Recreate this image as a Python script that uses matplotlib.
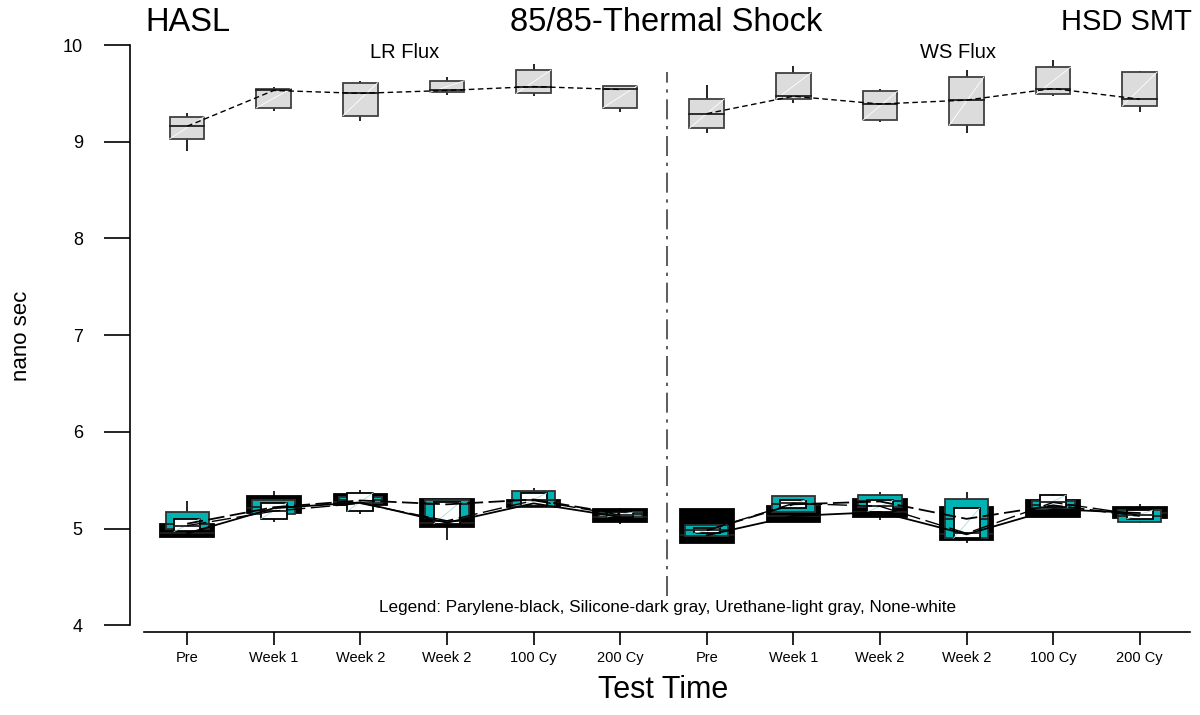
import matplotlib.pyplot as plt
from matplotlib.patches import Rectangle
import numpy as np

plt.rcParams['font.family'] = ['Liberation Sans', 'DejaVu Sans']

test_times = ['Pre', 'Week 1', 'Week 2', 'Week 2', '100 Cy', '200 Cy',
              'Pre', 'Week 1', 'Week 2', 'Week 2', '100 Cy', '200 Cy']

# Parylene (black)
par_q1 = [4.91, 5.16, 5.24, 5.02, 5.22, 5.07, 4.85, 5.07, 5.12, 4.88, 5.12, 5.105]
par_med = [4.95, 5.21, 5.27, 5.06, 5.26, 5.12, 4.93, 5.13, 5.17, 4.94, 5.20, 5.16]
par_q3 = [5.05, 5.335, 5.355, 5.31, 5.29, 5.20, 5.20, 5.23, 5.31, 5.22, 5.30, 5.225]

# Silicone (teal / "dark gray")
sil_q1 = [5.00, 5.15, 5.26, 5.11, 5.22, 5.12, 4.92, 5.17, 5.225, 4.90, 5.20, 5.07]
sil_med = [5.05, 5.22, 5.29, 5.25, 5.30, 5.15, 4.98, 5.25, 5.28, 5.10, 5.24, 5.13]
sil_q3 = [5.17, 5.30, 5.33, 5.29, 5.39, 5.17, 5.04, 5.335, 5.345, 5.31, 5.28, 5.19]

# Urethane (light gray)
ure_lo = [8.90, 9.32, 9.21, 9.48, 9.47, 9.31, 9.09, 9.40, 9.20, 9.09, 9.47, 9.31]
ure_q1 = [9.03, 9.35, 9.27, 9.51, 9.50, 9.35, 9.14, 9.44, 9.22, 9.17, 9.49, 9.37]
ure_med = [9.16, 9.53, 9.50, 9.53, 9.57, 9.54, 9.29, 9.47, 9.39, 9.43, 9.55, 9.44]
ure_q3 = [9.26, 9.55, 9.61, 9.63, 9.74, 9.58, 9.44, 9.71, 9.52, 9.67, 9.77, 9.72]
ure_hi = [9.30, 9.57, 9.63, 9.67, 9.80, 9.58, 9.59, 9.78, 9.55, 9.74, 9.85, 9.73]

# None (white)
non_lo = [4.91, 5.07, 5.15, 4.88, 5.21, 5.05, 4.85, 5.07, 5.09, 4.85, 5.12, 5.06]
non_q1 = [4.97, 5.10, 5.18, 5.05, 5.235, 5.12, 4.95, 5.21, 5.17, 4.90, 5.22, 5.10]
non_med = [5.03, 5.18, 5.26, 5.08, 5.29, 5.14, 4.98, 5.26, 5.23, 4.95, 5.27, 5.14]
non_q3 = [5.10, 5.265, 5.37, 5.27, 5.365, 5.17, 5.01, 5.30, 5.29, 5.21, 5.345, 5.19]
non_hi = [5.28, 5.39, 5.40, 5.31, 5.42, 5.21, 5.20, 5.34, 5.38, 5.38, 5.36, 5.25]

legend_text = 'Legend: Parylene-black, Silicone-dark gray, Urethane-light gray, None-white'

fig = plt.figure(figsize=(12, 7.15), dpi=100)
ax = fig.add_axes([130 / 1200, 83 / 715, 1060 / 1200, 587 / 715])

x = np.arange(len(test_times))


def draw_group(q1, med, q3, width, face, edge, ls, lw, z, diag=None):
    for i in range(len(x)):
        ax.add_patch(Rectangle((x[i] - width / 2, q1[i]), width, q3[i] - q1[i],
                               facecolor=face, edgecolor=edge, lw=1.3, zorder=z))
        if diag:
            ax.plot([x[i] - width / 2, x[i] + width / 2], [q1[i], q3[i]],
                    color=diag, lw=0.6, zorder=z + 0.1)
        ax.plot([x[i] - width / 2, x[i] + width / 2], [med[i], med[i]],
                color='#202020', lw=1.3, zorder=z + 0.2)
    for half in (slice(0, 6), slice(6, 12)):
        ax.plot(x[half], np.array(med)[half], color='black', ls=ls, lw=lw, zorder=6)


# whiskers
for lo, hi in ((ure_lo, ure_hi), (non_lo, non_hi)):
    ax.vlines(x, lo, hi, color='black', lw=1.2, zorder=1)

draw_group(par_q1, par_med, par_q3, 0.62, 'black', 'black', '-', 1.3, 2)
draw_group(sil_q1, sil_med, sil_q3, 0.50, '#00B2B2', '#303030', (0, (9, 3)), 1.3, 3)
draw_group(ure_q1, ure_med, ure_q3, 0.40, '#DCDCDC', '#404040', (0, (4, 2.5)), 1.0, 4, diag='white')
draw_group(non_q1, non_med, non_q3, 0.30, 'white', 'black', (0, (14, 4)), 1.0, 5, diag='#A8DCDC')

# divider between HASL and HSD SMT
ax.vlines(5.54, 4.3, 9.72, color='#404040', lw=1.2, linestyles=(0, (12, 4, 2, 4)))

ax.set_xlim(-0.66, 11.58)
ax.set_ylim(3.93, 10.0)
ax.set_xticks(x)
ax.set_xticklabels(test_times, fontsize=10.5)
ax.set_yticks([4, 5, 6, 7, 8, 9, 10])
ax.tick_params(axis='y', length=19, width=1.2, pad=15, labelsize=13)
ax.tick_params(axis='x', length=9, width=1.2, pad=5)
ax.spines['top'].set_visible(False)
ax.spines['right'].set_visible(False)
ax.spines['left'].set_bounds(4, 10)
ax.spines['bottom'].set_bounds(-0.5, 11.58)
ax.spines['left'].set_linewidth(1.2)
ax.spines['bottom'].set_linewidth(1.2)

fig.text(145 / 1200, 0.969, 'HASL', fontsize=23.5, va='center', ha='left')
fig.text(0.555, 0.969, '85/85-Thermal Shock', fontsize=23.5, va='center', ha='center')
fig.text(0.993, 0.969, 'HSD SMT', fontsize=21, va='center', ha='right')
fig.text(0.3375, 0.926, 'LR Flux', fontsize=14.5, va='center', ha='center')
fig.text(0.798, 0.926, 'WS Flux', fontsize=14.5, va='center', ha='center')
fig.text(0.556, 0.151, legend_text, fontsize=12.3, va='center', ha='center')
fig.text(0.5525, 0.035, 'Test Time', fontsize=22, va='center', ha='center')
fig.text(0.018, 0.531, 'nano sec', fontsize=16, va='center', ha='center', rotation=90)

fig.savefig('out.png', dpi=100)
